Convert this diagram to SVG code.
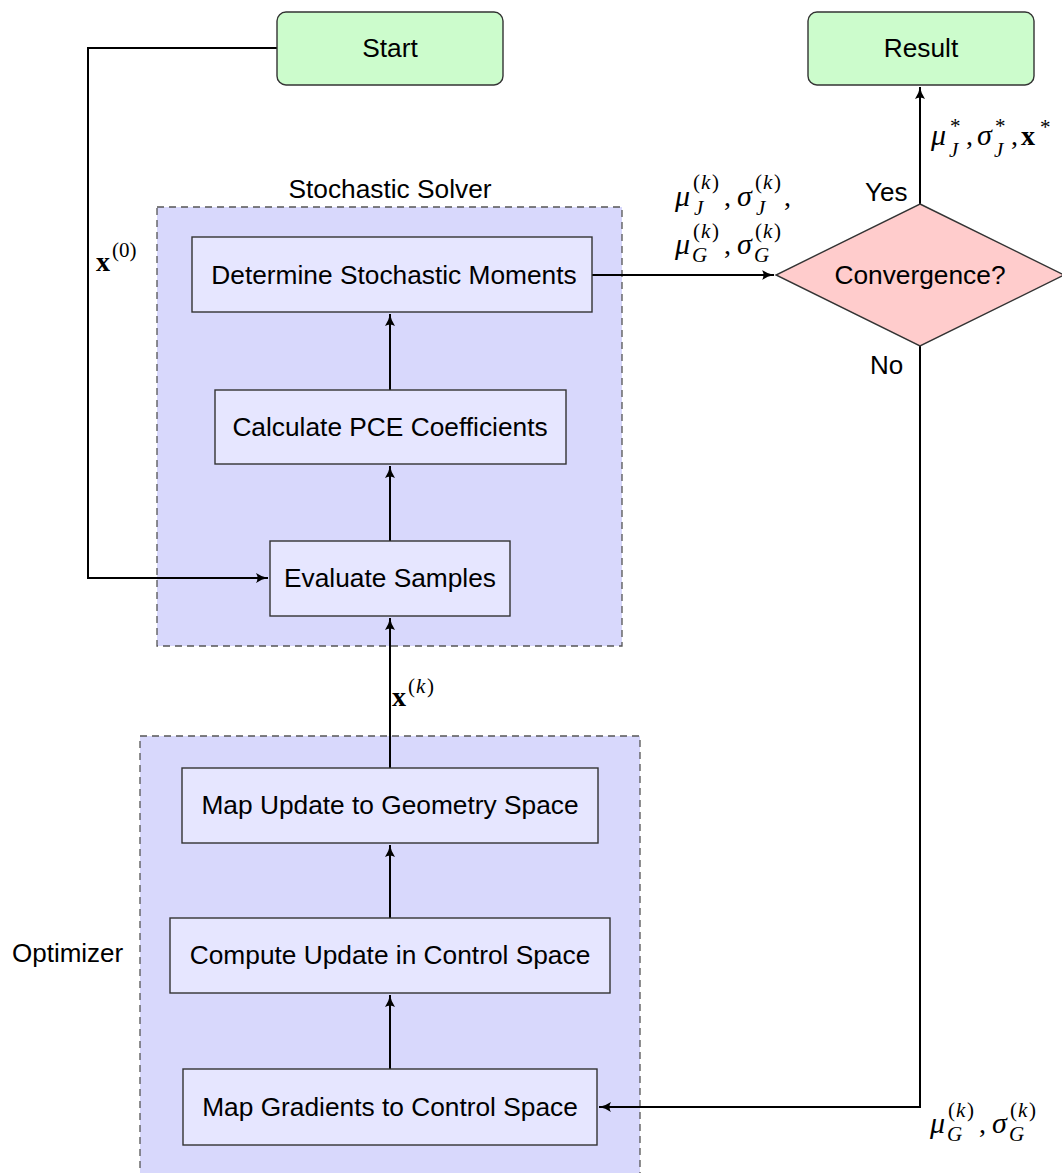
<svg xmlns="http://www.w3.org/2000/svg" width="1062" height="1173" viewBox="0 0 1062 1173">
  <style>
    .grp { fill: #d8d8fc; stroke: #555; stroke-width: 1.3; stroke-dasharray: 7 5; }
    .box { fill: #e6e6ff; stroke: #333; stroke-width: 1.4; }
    .term { fill: #ccfccc; stroke: #333; stroke-width: 1.4; }
    .dec { fill: #ffcccc; stroke: #333; stroke-width: 1.4; }
    .lbl { font-family: "Liberation Sans", Arial, sans-serif; font-size: 26.3px; fill: #000; text-anchor: middle; }
    .side { font-family: "Liberation Sans", Arial, sans-serif; font-size: 26px; fill: #000; }
    .m { font-family: "Liberation Serif", "Times New Roman", serif; font-style: italic; font-size: 30px; fill: #000; }
    .mb { font-family: "Liberation Serif", "Times New Roman", serif; font-weight: bold; font-size: 28px; fill: #000; }
    .ms { font-family: "Liberation Serif", "Times New Roman", serif; font-style: italic; font-size: 21px; fill: #000; }
    .mr { font-family: "Liberation Serif", "Times New Roman", serif; font-size: 21px; fill: #000; }
    .mc { font-family: "Liberation Serif", "Times New Roman", serif; font-size: 28px; fill: #000; }
    .edge { fill: none; stroke: #000; stroke-width: 2; }
  </style>
  <defs>
    <marker id="arr" viewBox="0 0 13 11" refX="12" refY="5.5" markerWidth="13" markerHeight="11" markerUnits="userSpaceOnUse" orient="auto">
      <path d="M0,0.5 Q5.5,4.3 12,5.5 Q5.5,6.7 0,10.5 Q3,5.5 0,0.5 Z" fill="#000"/>
    </marker>
  </defs>

  <!-- group backgrounds -->
  <g id="stochastic-solver">
    <rect class="grp" x="157" y="207" width="465" height="439"/>
    <text class="lbl" x="390" y="198">Stochastic Solver</text>
  </g>
  <g id="optimizer">
    <rect class="grp" x="140" y="736" width="500" height="460"/>
    <text class="side" x="12" y="962">Optimizer</text>
  </g>

  <!-- connectors -->
  <g id="connectors">
    <path class="edge" d="M277,48 H88 V578 H268" marker-end="url(#arr)"/>
    <path class="edge" d="M390,541 V466" marker-end="url(#arr)"/>
    <path class="edge" d="M390,390 V314" marker-end="url(#arr)"/>
    <path class="edge" d="M592,275 H774" marker-end="url(#arr)"/>
    <path class="edge" d="M920,204 V87" marker-end="url(#arr)"/>
    <path class="edge" d="M920,346 V1107 H599" marker-end="url(#arr)"/>
    <path class="edge" d="M390,1069 V995" marker-end="url(#arr)"/>
    <path class="edge" d="M390,918 V845" marker-end="url(#arr)"/>
    <path class="edge" d="M390,768 V618" marker-end="url(#arr)"/>
  </g>

  <!-- nodes -->
  <g id="start">
    <rect class="term" x="277" y="12" width="226" height="73" rx="9"/>
    <text class="lbl" x="390" y="57">Start</text>
  </g>
  <g id="result">
    <rect class="term" x="808" y="12" width="226" height="73" rx="9"/>
    <text class="lbl" x="921" y="57">Result</text>
  </g>
  <g id="moments">
    <rect class="box" x="192" y="237" width="400" height="75"/>
    <text class="lbl" x="394" y="284">Determine Stochastic Moments</text>
  </g>
  <g id="pce">
    <rect class="box" x="215" y="390" width="351" height="74"/>
    <text class="lbl" x="390" y="436">Calculate PCE Coefficients</text>
  </g>
  <g id="samples">
    <rect class="box" x="270" y="541" width="240" height="75"/>
    <text class="lbl" x="390" y="587">Evaluate Samples</text>
  </g>
  <g id="map-update">
    <rect class="box" x="182" y="768" width="416" height="75"/>
    <text class="lbl" x="390" y="814">Map Update to Geometry Space</text>
  </g>
  <g id="compute-update">
    <rect class="box" x="170" y="918" width="440" height="75"/>
    <text class="lbl" x="390" y="964">Compute Update in Control Space</text>
  </g>
  <g id="map-gradients">
    <rect class="box" x="183" y="1069" width="414" height="76"/>
    <text class="lbl" x="390" y="1116">Map Gradients to Control Space</text>
  </g>
  <g id="convergence">
    <polygon class="dec" points="920,204 1064,275 920,346 776,275"/>
    <text class="lbl" x="920" y="284">Convergence?</text>
  </g>

  <!-- edge labels -->
  <g id="edge-labels">
    <text class="side" x="865" y="201">Yes</text>
    <text class="side" x="870" y="374">No</text>

    <!-- x^(0) -->
    <text class="mb" x="96" y="271">x</text>
    <text class="mr" x="112" y="257">(0)</text>

    <!-- x^(k) -->
    <text class="mb" x="392" y="706">x</text>
    <text class="mr" x="408" y="693">(</text>
    <text class="ms" x="416" y="693">k</text>
    <text class="mr" x="427" y="693">)</text>

    <!-- mu_J^(k), sigma_J^(k), -->
    <text class="m" x="675" y="206">μ</text>
    <text class="mr" x="693" y="189">(</text><text class="ms" x="701" y="189">k</text><text class="mr" x="712" y="189">)</text>
    <text class="ms" x="694" y="215">J</text>
    <text class="mc" x="724" y="206">,</text>
    <text class="m" x="737" y="206">σ</text>
    <text class="mr" x="755" y="189">(</text><text class="ms" x="763" y="189">k</text><text class="mr" x="774" y="189">)</text>
    <text class="ms" x="756" y="215">J</text>
    <text class="mc" x="784" y="206">,</text>

    <!-- mu_G^(k), sigma_G^(k) -->
    <text class="m" x="675" y="254">μ</text>
    <text class="mr" x="693" y="238">(</text><text class="ms" x="701" y="238">k</text><text class="mr" x="712" y="238">)</text>
    <text class="ms" x="692" y="262">G</text>
    <text class="mc" x="724" y="254">,</text>
    <text class="m" x="737" y="254">σ</text>
    <text class="mr" x="755" y="238">(</text><text class="ms" x="763" y="238">k</text><text class="mr" x="774" y="238">)</text>
    <text class="ms" x="754" y="262">G</text>

    <!-- mu_J^*, sigma_J^*, x^* -->
    <text class="m" x="931" y="145">μ</text>
    <text class="mr" x="950" y="133">*</text>
    <text class="ms" x="949" y="157">J</text>
    <text class="mc" x="966" y="145">,</text>
    <text class="m" x="977" y="145">σ</text>
    <text class="mr" x="995" y="133">*</text>
    <text class="ms" x="994" y="157">J</text>
    <text class="mc" x="1011" y="145">,</text>
    <text class="mb" x="1021" y="145">x</text>
    <text class="mr" x="1040" y="134">*</text>

    <!-- mu_G^(k), sigma_G^(k) on return path -->
    <text class="m" x="930" y="1133">μ</text>
    <text class="mr" x="948" y="1117">(</text><text class="ms" x="956" y="1117">k</text><text class="mr" x="967" y="1117">)</text>
    <text class="ms" x="947" y="1141">G</text>
    <text class="mc" x="979" y="1133">,</text>
    <text class="m" x="992" y="1133">σ</text>
    <text class="mr" x="1010" y="1117">(</text><text class="ms" x="1018" y="1117">k</text><text class="mr" x="1029" y="1117">)</text>
    <text class="ms" x="1009" y="1141">G</text>
  </g>
</svg>
